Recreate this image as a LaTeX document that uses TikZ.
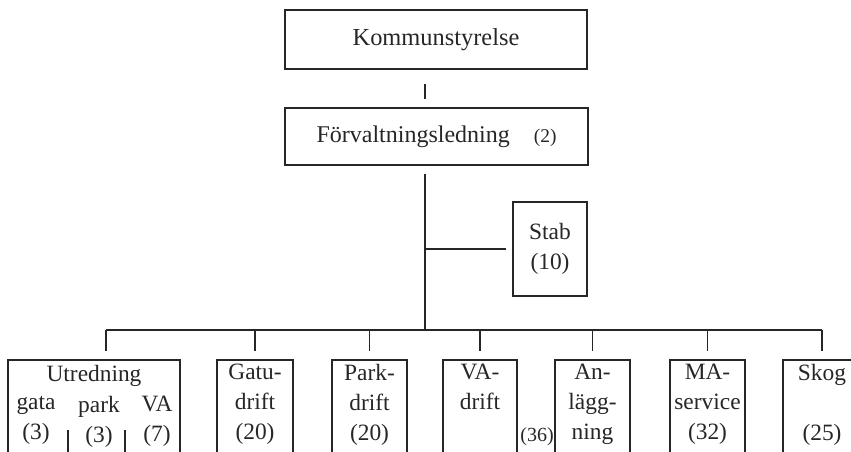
\documentclass[tikz,border=0pt]{standalone}
\usepackage{fontspec}
\setmainfont{Liberation Serif}
\usetikzlibrary{positioning}

\tikzset{
  unit/.style={draw, line width=0.9pt, inner sep=0pt, align=center},
  dept/.style={unit, anchor=north, execute at begin node={\rule{0pt}{9pt}}, text depth=40pt, inner ysep=2pt},
  sub/.style={anchor=north, inner sep=0pt, align=center, execute at begin node={\rule{0pt}{9pt}}},
  link/.style={line width=0.7pt},
}

\begin{document}
\begin{tikzpicture}[x=0.5pt, y=0.5pt, font=\fontsize{11.7}{15}\selectfont, color=black!85]
    \useasboundingbox (0,0) rectangle (851,451);

    % top of the tree
    \node[unit, minimum width=151pt, minimum height=29.5pt, font=\fontsize{12.2}{15}\selectfont] (kommun) at (436,411.5) {Kommunstyrelse};
    \node[unit, minimum width=151.5pt, minimum height=28.5pt, font=\fontsize{12}{15}\selectfont] (forv) at (436.5,314.5) {Förvaltningsledning\quad{\fontsize{9.7}{12}\selectfont (2)}};
    \node[unit, minimum width=37pt, minimum height=47pt] (stab) at (550,202) {Stab\\(10)};
    \coordinate (trunk) at (425,121); % where the bus starts

    % the units, cut off at the bottom
    \node[dept, minimum width=86pt] (utred) at (94,92) {Utredning};
    \node[dept, minimum width=38pt] (gatu) at (255,92) {Gatu-\\drift\\(20)};
    \node[dept, minimum width=37.5pt] (park) at (369.5,92) {Park-\\drift\\(20)};
    \node[dept, minimum width=37pt] (vadrift) at (480,92) {VA-\\drift};
    \node[dept, minimum width=37.5pt] (anl) at (592.5,92) {An-\\lägg-\\ning};
    \node[dept, minimum width=37.5pt] (maserv) at (707.5,92) {MA-\\service\\(32)};
    \node[dept, minimum width=39pt] (skog) at (822,92) {Skog\\\mbox{}\\(25)};
    \node[inner sep=0pt, font=\fontsize{10}{12}\selectfont] (anlnum) at (537,14) {(36)};

    % parts of Utredning
    \node[sub] (ugata) at (36,55) {gata\\(3)};
    \node[sub] (upark) at (99,55) {park\\(3)};
    \node[sub] (uva) at (157,55) {VA\\(7)};
    \draw[link] (68,21) -- (68,-4);
    \draw[link] (125,21) -- (125,-4);

    \draw[link, shorten <=7pt, shorten >=4pt] (kommun.south -| trunk) -- (forv.north -| trunk);
    \draw[link, shorten <=4pt] (forv.south -| trunk) -- (trunk);
    \draw[link, shorten >=3pt] (trunk |- stab.west) -- (stab.west);

    \coordinate (udrop) at ([xshift=6pt]utred.north);
    \draw[link] (udrop |- trunk) -- (skog.north |- trunk);
    \foreach \n in {udrop, gatu.north, park.north, vadrift.north, anl.north, maserv.north, skog.north}
      \draw[link, shorten >=4pt] (\n |- trunk) -- (\n);
\end{tikzpicture}
\end{document}
